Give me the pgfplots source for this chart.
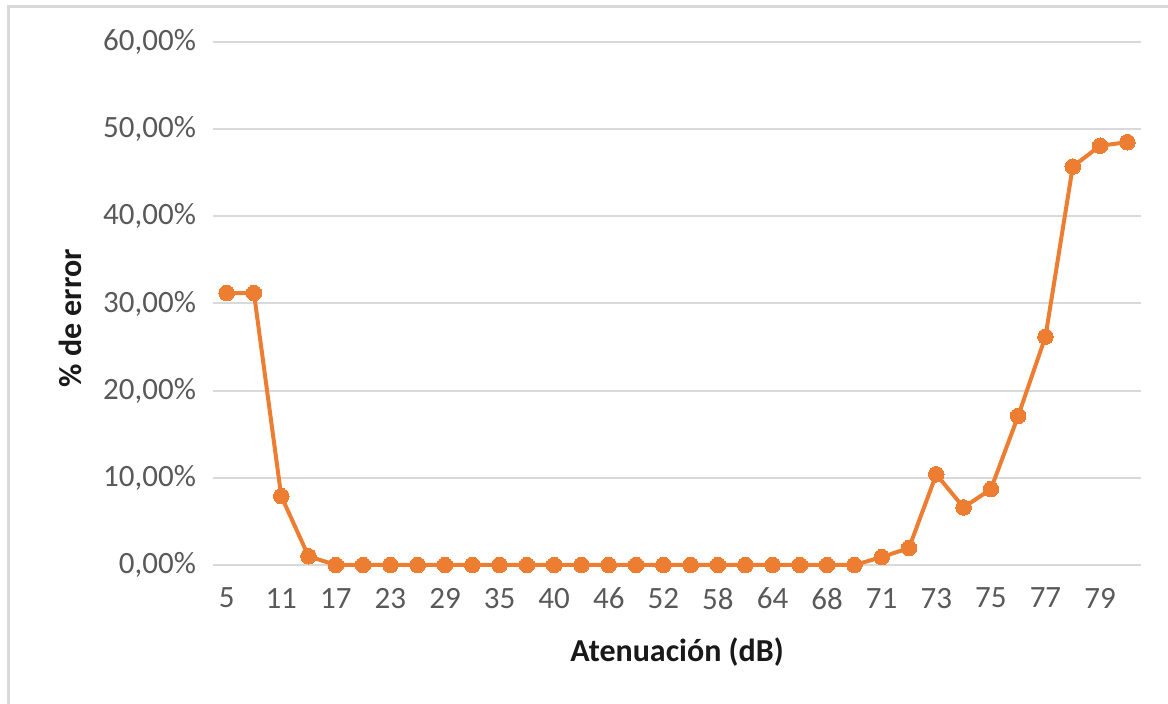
\documentclass[border=0pt]{standalone}
\usepackage{pgfplots}
\pgfplotsset{compat=1.18}
\usepackage{fontspec}
\setmainfont{Carlito}
\definecolor{ticktext}{HTML}{595959}
\definecolor{gridc}{HTML}{D9D9D9}
\definecolor{xlorange}{HTML}{ED7D31}
\begin{document}
\begin{tikzpicture}[x=1pt,y=1pt]
\useasboundingbox (0,0) rectangle (584,352);
\draw[gridc, line width=1.5pt] (4,0) -- (4,348.5) -- (584,348.5);
\begin{axis}[
  at={(106.5pt,69.5pt)}, anchor=south west,
  scale only axis, width=464pt, height=261.5pt,
  xmin=-0.5, xmax=33.5, ymin=0, ymax=60,
  axis line style={draw=none},
  tick style={draw=none},
  xtick={0,2,...,32},
  xticklabels={5,11,17,23,29,35,40,46,52,58,64,68,71,73,75,77,79},
  ytick={0,10,...,60},
  yticklabels={{0,00\%},{10,00\%},{20,00\%},{30,00\%},{40,00\%},{50,00\%},{60,00\%}},
  ymajorgrids, grid style={gridc, line width=1pt},
  ticklabel style={font=\fontsize{15.5}{17}\selectfont, text=ticktext},
  xticklabel style={yshift=-8pt},
  yticklabel style={xshift=-5pt},
  xlabel={\textbf{Atenuación (dB)}},
  ylabel={\textbf{\% de error}},
  label style={font=\fontsize{16}{18}\selectfont, text=black!90},
  xlabel style={at={(axis description cs:0.5,-0.166)}, anchor=center},
  ylabel style={at={(axis description cs:-0.154,0.472)}, anchor=center, rotate=0},
  clip=false,
]
\addplot[xlorange, line width=2pt, mark=*, mark size=3.9pt, mark options={fill=xlorange, draw=xlorange, line width=0pt}] coordinates {
(0,31.2)(1,31.2)(2,7.9)(3,1.0)(4,0)(5,0)(6,0)(7,0)(8,0)(9,0)(10,0)(11,0)
(12,0)(13,0)(14,0)(15,0)(16,0)(17,0)(18,0)(19,0)(20,0)(21,0)(22,0)(23,0)
(24,0.9)(25,1.95)(26,10.4)(27,6.6)(28,8.7)(29,17.1)(30,26.2)(31,45.7)
(32,48.1)(33,48.5)
};
\end{axis}
\end{tikzpicture}
\end{document}
